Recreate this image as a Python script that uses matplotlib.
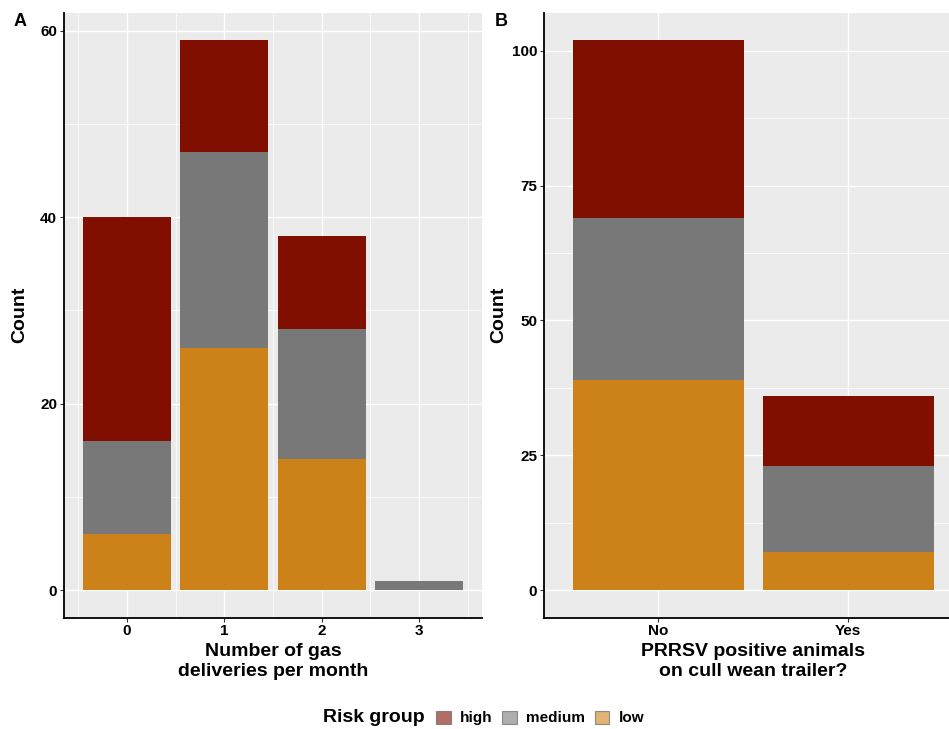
import matplotlib.pyplot as plt
import numpy as np
from matplotlib.patches import Patch

plt.rcParams['font.family'] = ['Liberation Sans', 'DejaVu Sans']
plt.rcParams['font.weight'] = 'bold'

# --- data ---
risk_groups = ['high', 'medium', 'low']
colors = {'high': '#800F00', 'medium': '#787878', 'low': '#CC8218'}

gas_x = [0, 1, 2, 3]
gas_low = [6, 26, 14, 0]
gas_medium = [10, 21, 14, 1]
gas_high = [24, 12, 10, 0]

prrsv_cats = ['No', 'Yes']
prrsv_low = [39, 7]
prrsv_medium = [30, 16]
prrsv_high = [33, 13]

W, H = 949, 729
fig = plt.figure(figsize=(W / 100, H / 100), dpi=100)


def px_axes(left, right, top, bottom):
    return fig.add_axes([left / W, 1 - bottom / H, (right - left) / W, (bottom - top) / H])


def style(ax):
    ax.set_facecolor('#EBEBEB')
    for s in ['top', 'right']:
        ax.spines[s].set_visible(False)
    for s in ['left', 'bottom']:
        ax.spines[s].set_color('black')
        ax.spines[s].set_linewidth(1.3)
    ax.grid(which='major', color='white', linewidth=1.0)
    ax.grid(which='minor', color='white', linewidth=0.5)
    ax.set_axisbelow(True)
    ax.tick_params(which='major', length=3, width=0.8, color='#333333',
                   labelsize=11, pad=2)
    ax.tick_params(which='minor', length=0)
    for lab in ax.get_xticklabels() + ax.get_yticklabels():
        lab.set_fontweight('bold')


def stack(ax, x, low, medium, high, width):
    low = np.array(low)
    medium = np.array(medium)
    high = np.array(high)
    ax.bar(x, low, width=width, color=colors['low'], linewidth=0)
    ax.bar(x, medium, width=width, bottom=low, color=colors['medium'], linewidth=0)
    ax.bar(x, high, width=width, bottom=low + medium, color=colors['high'], linewidth=0)


# --- panel A ---
axA = px_axes(64, 482, 12.5, 617.5)
stack(axA, gas_x, gas_low, gas_medium, gas_high, 0.9)
axA.set_xlim(-0.645, 3.645)
axA.set_ylim(-2.95, 61.95)
axA.set_xticks(gas_x)
axA.set_xticks([-0.5, 0.5, 1.5, 2.5, 3.5], minor=True)
axA.set_yticks([0, 20, 40, 60])
axA.set_yticks([10, 30, 50], minor=True)
style(axA)
axA.set_xlabel('Number of gas\ndeliveries per month', fontsize=14, fontweight='bold',
               labelpad=3, linespacing=1.25)
axA.set_ylabel('Count', fontsize=14, fontweight='bold', va='center')
axA.yaxis.set_label_coords((20 - 64) / 418, 0.5)

# --- panel B ---
axB = px_axes(544, 962, 12.5, 617.5)
xb = np.arange(1, len(prrsv_cats) + 1)
stack(axB, xb, prrsv_low, prrsv_medium, prrsv_high, 0.9)
axB.set_xlim(0.4, 2.6)
axB.set_ylim(-5.1, 107.1)
axB.set_xticks(xb)
axB.set_xticklabels(prrsv_cats)
axB.set_yticks([0, 25, 50, 75, 100])
axB.set_yticks([12.5, 37.5, 62.5, 87.5], minor=True)
style(axB)
axB.set_xlabel('PRRSV positive animals\non cull wean trailer?', fontsize=14,
               fontweight='bold', labelpad=3, linespacing=1.25)
axB.set_ylabel('Count', fontsize=14, fontweight='bold', va='center')
axB.yaxis.set_label_coords((499 - 544) / 418, 0.5)

fig.text(14 / W, 1 - 22 / H, 'A', fontsize=13, fontweight='bold', va='center')
fig.text(495 / W, 1 - 22 / H, 'B', fontsize=13, fontweight='bold', va='center')

# --- legend ---
fig.text(323 / W, 1 - 718 / H, 'Risk group', fontsize=14, fontweight='bold', va='center')
handles = [Patch(facecolor=colors[g], alpha=0.6, edgecolor='#555555', linewidth=0.8)
           for g in risk_groups]
leg = fig.legend(handles, risk_groups, loc='center left', bbox_to_anchor=(436 / W, 1 - 718 / H),
                 ncol=3, frameon=False, handlelength=0.95, handleheight=0.95,
                 handletextpad=0.6, columnspacing=0.65, borderaxespad=0, borderpad=0,
                 prop={'size': 11, 'weight': 'bold'})

fig.savefig('out.png', dpi=100, facecolor='white')
